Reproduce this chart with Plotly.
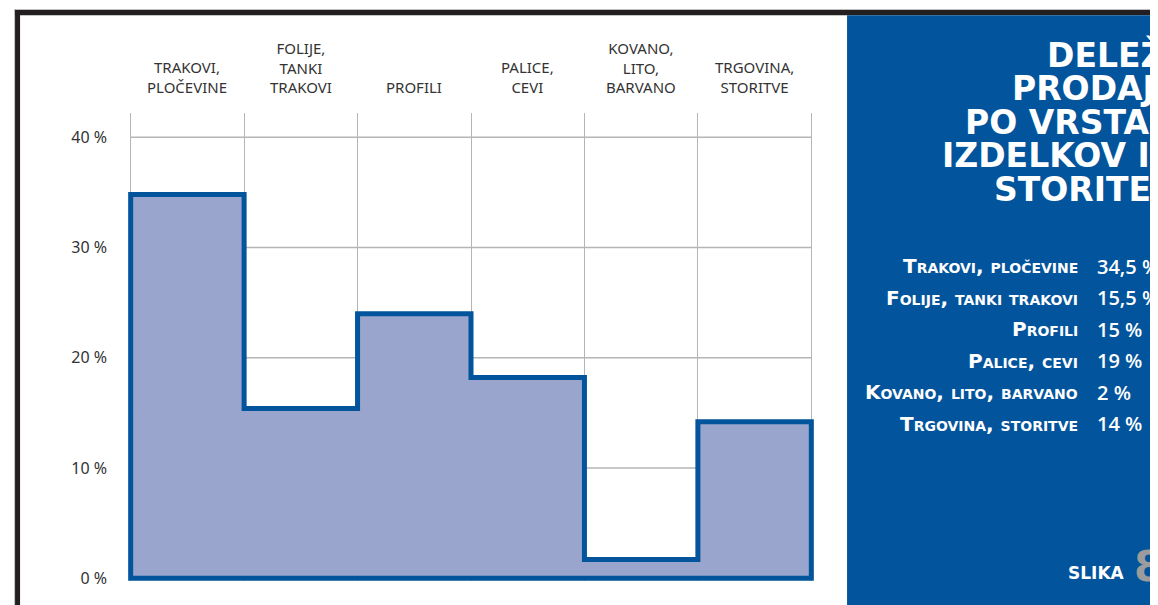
import plotly.graph_objects as go

# ---------------- data ----------------
categories = [
    ["TRAKOVI,", "PLOČEVINE"],
    ["FOLIJE,", "TANKI", "TRAKOVI"],
    ["PROFILI"],
    ["PALICE,", "CEVI"],
    ["KOVANO,", "LITO,", "BARVANO"],
    ["TRGOVINA,", "STORITVE"],
]
values = [34.8, 15.4, 24.0, 18.2, 1.7, 14.2]          # step heights (%)
y_ticks = [0, 10, 20, 30, 40]
y_tick_labels = ["0 %", "10 %", "20 %", "30 %", "40 %"]

legend_names = ["Trakovi, pločevine", "Folije, tanki trakovi", "Profili",
                "Palice, cevi", "Kovano, lito, barvano", "Trgovina, storitve"]
legend_shares = [34.5, 15.5, 15, 19, 2, 14]
title_lines = ["DELEŽI", "PRODAJE", "PO VRSTAH", "IZDELKOV IN", "STORITEV"]
figure_label = "SLIKA"
figure_number = "8"

# ---------------- styling / layout ----------------
OFF = 8                      # page body margin of the html page
VW, VH = 1158, 605           # visible window
W, H = VW - OFF, VH - OFF    # figure size
BLUE = "#02549c"
FILL = "#99a5cd"
GRID = "#b5b5b5"
DARK = "#231f20"
TXT = "#333333"

n = len(values)
XPAD = 0.05
YMIN, YMAX = -0.25, 42.2
# plot area in window pixels
PL, PR = 125.33, 816.67
PT, PB = 113.0, 580.76
PW, PH = PR - PL, PB - PT


def fx(px):
    return (px - PL) / PW


def fy(py):
    return (PB - py) / PH


# closed step outline starting mid-bottom so every corner is mitred
xs, ys = [n / 2, 0], [0, 0]
for i, v in enumerate(values):
    xs += [i, i + 1]
    ys += [v, v]
xs += [n, n / 2]
ys += [0, 0]

fig = go.Figure()
fig.add_trace(go.Scatter(
    x=xs, y=ys, mode="lines", fill="toself", fillcolor=FILL,
    line=dict(color=BLUE, width=5), hoverinfo="skip", showlegend=False,
))

shapes = []
for t in y_ticks[1:]:
    shapes.append(dict(type="line", xref="x", yref="y", x0=0, x1=n, y0=t, y1=t,
                       line=dict(color=GRID, width=1.3), layer="below"))

shapes += [
    dict(type="rect", xref="paper", yref="paper", x0=fx(14.5), x1=fx(VW + 2), y0=fy(9), y1=fy(10),
         fillcolor="#bdbdbd", line=dict(width=0), layer="above"),
    dict(type="rect", xref="paper", yref="paper", x0=fx(15.5), x1=fx(VW + 2), y0=fy(10), y1=fy(15.3),
         fillcolor=DARK, line=dict(width=0), layer="above"),
    dict(type="rect", xref="paper", yref="paper", x0=fx(14.5), x1=fx(15.5), y0=fy(9), y1=fy(VH + 2),
         fillcolor="#bdbdbd", line=dict(width=0), layer="above"),
    dict(type="rect", xref="paper", yref="paper", x0=fx(15.5), x1=fx(20.5), y0=fy(10), y1=fy(VH + 2),
         fillcolor=DARK, line=dict(width=0), layer="above"),
    dict(type="rect", xref="paper", yref="paper", x0=fx(846.7), x1=fx(VW + 2), y0=fy(15.3), y1=fy(VH + 2),
         fillcolor=BLUE, line=dict(width=0), layer="above"),
]

annotations = []
for i, lines in enumerate(categories):
    annotations.append(dict(
        xref="x", yref="paper", x=i + 0.5, y=1, yanchor="bottom", xanchor="center",
        yshift=14, text="<br>".join(lines), showarrow=False, align="center",
        font=dict(family="Noto Sans", size=15, color=TXT),
    ))

for k, line in enumerate(title_lines):
    annotations.append(dict(
        xref="paper", yref="paper", x=fx(1178), y=fy(55 + 33.5 * k),
        xanchor="right", yanchor="middle", text=line, showarrow=False,
        font=dict(family="DejaVu Sans", size=33, color="white", weight="bold"),
    ))

for k, (name, share) in enumerate(zip(legend_names, legend_shares)):
    yy = fy(266 + 31.5 * k)
    annotations.append(dict(
        xref="paper", yref="paper", x=fx(1079), y=yy, xanchor="right", yanchor="middle",
        text=name, showarrow=False,
        font=dict(family="DejaVu Sans", size=20, color="white", weight="bold", variant="small-caps"),
    ))
    annotations.append(dict(
        xref="paper", yref="paper", x=fx(1094), y=yy, xanchor="left", yanchor="middle",
        text=f"{share:g}".replace(".", ",") + " %", showarrow=False,
        font=dict(family="Open Sans", size=20, color="white", weight=600),
    ))

annotations.append(dict(
    xref="paper", yref="paper", x=fx(1126), y=fy(573), xanchor="right", yanchor="middle",
    text=figure_label, showarrow=False,
    font=dict(family="DejaVu Sans", size=17, color="white", weight="bold"),
))
annotations.append(dict(
    xref="paper", yref="paper", x=fx(1131), y=fy(566), xanchor="left", yanchor="middle",
    text=figure_number, showarrow=False,
    font=dict(family="DejaVu Sans", size=42, color="#9c9c9c", weight="bold"),
))

fig.update_layout(
    width=W, height=H,
    margin=dict(l=PL - OFF, r=OFF + W - PR, t=PT - OFF, b=OFF + H - PB, pad=0),
    paper_bgcolor="white", plot_bgcolor="white",
    showlegend=False,
    xaxis=dict(range=[-XPAD, n + XPAD], tickvals=list(range(n + 1)), showticklabels=False,
               showgrid=True, gridcolor=GRID, gridwidth=1.3, zeroline=False, showline=False,
               ticks="", fixedrange=True),
    yaxis=dict(range=[YMIN, YMAX], tickvals=y_ticks, ticktext=y_tick_labels, showgrid=False,
               zeroline=False, showline=False, ticks="", ticklabelstandoff=17,
               tickfont=dict(family="Noto Sans", size=16, color=TXT), fixedrange=True),
    shapes=shapes, annotations=annotations,
)

fig.write_html("out.html")
